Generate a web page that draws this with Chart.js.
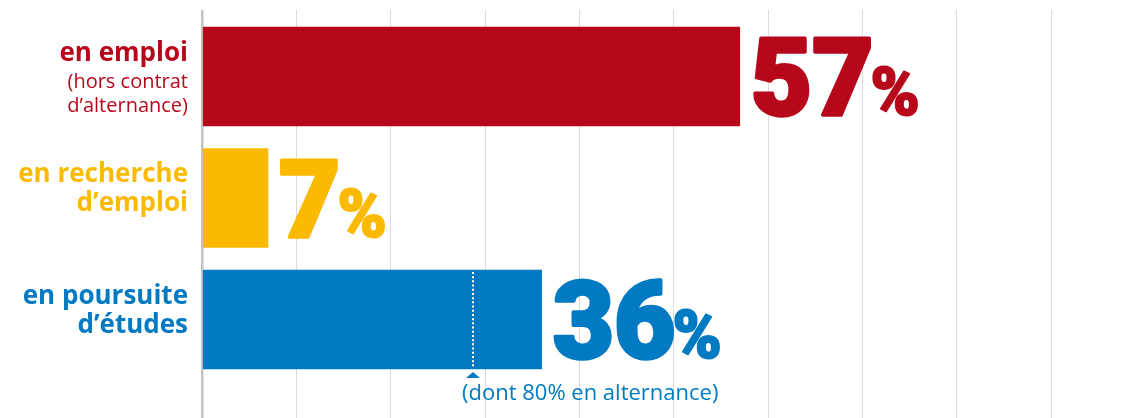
<!DOCTYPE html>
<html>
<head>
<meta charset="utf-8">
<script src="https://cdn.jsdelivr.net/npm/chart.js@4"></script>
<style>
  html, body { margin: 0; padding: 0; background: #fff; overflow: hidden; }
  #wrap { width: 1136px; height: 418px; position: relative; }
</style>
</head>
<body>
<div id="wrap"><canvas id="situationChart"></canvas></div>
<script>
const categories = ["en emploi", "en recherche d’emploi", "en poursuite d’études"];
const values = [57, 7, 36];
const barColors = ["#b7081b", "#fbba00", "#007ac2"];
const labelLines = [["en emploi"], ["en recherche", "d’emploi"], ["en poursuite", "d’études"]];
const subLines = [["(hors contrat", "d’alternance)"], [], []];
const alternanceShare = 80;   // % des poursuites d'études en alternance
const noteText = "(dont 80% en alternance)";

const labelsPlugin = {
  id: "labelsPlugin",
  afterDatasetsDraw(chart) {
    const ctx = chart.ctx;
    const meta = chart.getDatasetMeta(0);
    const xs = chart.scales.x;

    meta.data.forEach((bar, i) => {
      const col = barColors[i];

      // big value + %
      ctx.save();
      ctx.fillStyle = col;
      ctx.strokeStyle = col;
      ctx.lineJoin = "round";
      ctx.textAlign = "left";
      ctx.textBaseline = "alphabetic";
      ctx.translate(bar.x + 11, bar.y + 39);
      ctx.scale(0.99, 1);
      ctx.font = "900 107px Roboto";
      const num = String(values[i]);
      ctx.lineWidth = 3.5;
      ctx.fillText(num, 0, 0);
      ctx.strokeText(num, 0, 0);
      const w = ctx.measureText(num).width;
      ctx.font = "900 67px Roboto";
      ctx.lineWidth = 2;
      ctx.fillText("%", w - 3, 0);
      ctx.strokeText("%", w - 3, 0);
      ctx.restore();

      // category label on the left
      ctx.save();
      ctx.fillStyle = col;
      ctx.textAlign = "right";
      ctx.textBaseline = "alphabetic";
      let y = bar.y - 15.5;
      ctx.font = "bold 26px 'Open Sans'";
      labelLines[i].forEach((t, k) => {
        ctx.fillText(t, 188, y + k * 29);
      });
      ctx.font = "20px 'Open Sans'";
      subLines[i].forEach((t, k) => {
        ctx.fillText(t, 188, y + 27 + k * 24);
      });
      ctx.restore();
    });

    // dotted marker for the alternance share inside the last bar
    const last = meta.data[2];
    const mx = Math.round(xs.getPixelForValue(values[2] * alternanceShare / 100)) - 1;
    const top = last.y - last.height / 2;
    const bottom = last.y + last.height / 2;
    ctx.save();
    ctx.strokeStyle = "#ffffff";
    ctx.lineWidth = 2;
    ctx.setLineDash([2, 2.2]);
    ctx.beginPath();
    ctx.moveTo(mx, top + 2);
    ctx.lineTo(mx, bottom - 1);
    ctx.stroke();
    ctx.setLineDash([]);
    ctx.fillStyle = barColors[2];
    ctx.beginPath();
    ctx.moveTo(mx, bottom + 3);
    ctx.lineTo(mx + 7, bottom + 9);
    ctx.lineTo(mx - 7, bottom + 9);
    ctx.closePath();
    ctx.fill();
    ctx.font = "22px 'Open Sans'";
    ctx.textAlign = "left";
    ctx.fillText(noteText, mx - 11, bottom + 31);
    ctx.restore();
  }
};

new Chart("situationChart", {
  type: "bar",
  data: {
    labels: categories,
    datasets: [{
      data: values.map((v, i) => ({ x: v, y: i })),
      backgroundColor: barColors,
      borderWidth: 0,
      barThickness: 99
    }]
  },
  options: {
    indexAxis: "y",
    responsive: true,
    maintainAspectRatio: false,
    animation: false,
    layout: { padding: { left: 202, top: 10, right: 0, bottom: 0 } },
    plugins: { legend: { display: false }, tooltip: { enabled: false } },
    scales: {
      x: {
        type: "linear",
        min: 0,
        max: 99,
        ticks: { display: false, stepSize: 10 },
        border: { display: false },
        grid: {
          drawTicks: false,
          color: c => c.tick.value === 0 ? "#c4c4c4" : (c.tick.value % 10 === 0 ? "#dadada" : "rgba(0,0,0,0)"),
          lineWidth: c => c.tick.value === 0 ? 2.5 : 1
        }
      },
      y: {
        type: "linear",
        reverse: true,
        offset: false,
        min: -0.547,
        max: 2.811,
        display: false
      }
    }
  },
  plugins: [labelsPlugin]
});
</script>
</body>
</html>
